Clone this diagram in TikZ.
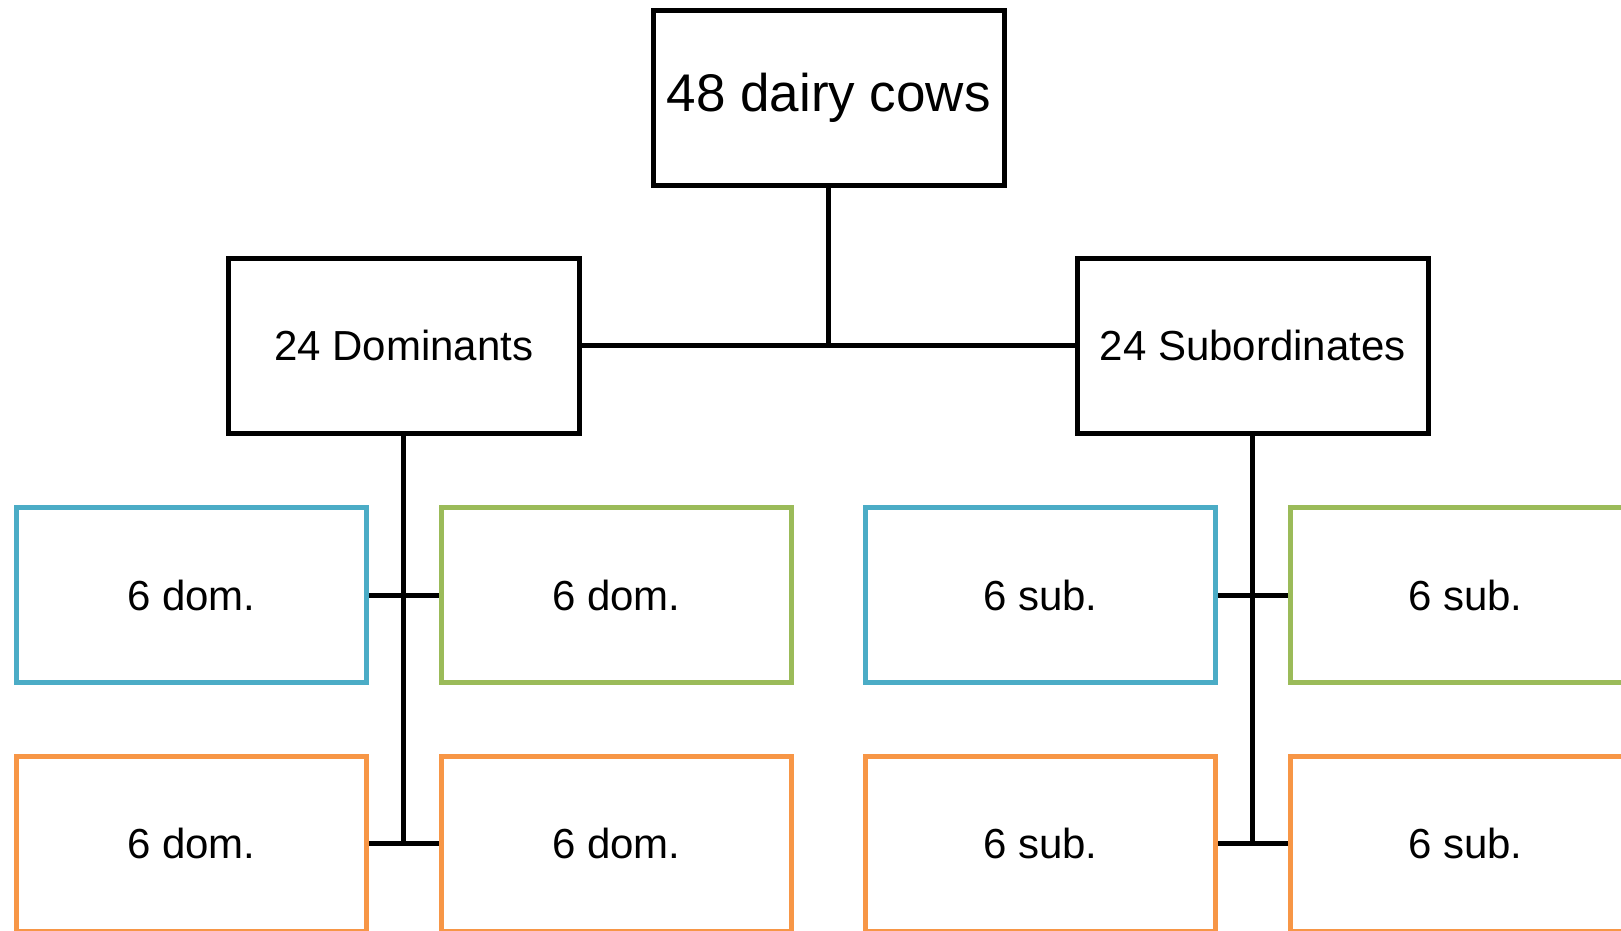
\documentclass[tikz,border=0pt]{standalone}
\usepackage{fontspec}
\setmainfont{Liberation Sans}
\definecolor{domblue}{HTML}{4BACC6}
\definecolor{domgreen}{HTML}{9BBB59}
\definecolor{domorange}{HTML}{F79646}
\tikzset{
 cowbox/.style={draw, line width=5pt, minimum width=350.5pt, minimum height=175pt,
  inner sep=0pt, font=\fontsize{42}{50}\selectfont},
 link/.style={line width=5pt}
}
\begin{document}
\begin{tikzpicture}[x=1pt,y=1pt]
 \useasboundingbox (0,0) rectangle (1621,-930);

 %whole herd
 \node [cowbox, font=\fontsize{53}{60}\selectfont] (herd) at (828.75,-97.5) {48 dairy cows};

 %ranks
 \node [cowbox] (dom) at (403.75,-345.5) {24 Dominants};
 \node [cowbox] (sub) at (1252.75,-345.5) {24 Subordinates};

 %groups of dominants
 \node [cowbox, draw=domblue] (domA) at (191.25,-595) {6 dom.};
 \node [cowbox, draw=domgreen] (domB) at (616.25,-595) {6 dom.};
 \node [cowbox, draw=domorange] (domC) at (191.25,-843.5) {6 dom.};
 \node [cowbox, draw=domorange] (domD) at (616.25,-843.5) {6 dom.};

 %groups of subordinates
 \node [cowbox, draw=domblue] (subA) at (1040.25,-595) {6 sub.};
 \node [cowbox, draw=domgreen] (subB) at (1465.25,-595) {6 sub.};
 \node [cowbox, draw=domorange] (subC) at (1040.25,-843.5) {6 sub.};
 \node [cowbox, draw=domorange] (subD) at (1465.25,-843.5) {6 sub.};

 %ends of the trunks
 \coordinate (domEnd) at (dom |- domC);
 \coordinate (subEnd) at (sub |- subC);

 %connect herd to ranks
 \draw [link] (dom) -- (sub);
 \draw [link] (herd) -- (herd |- dom);

 %connect dominants
 \draw [link] (dom) -- (domEnd);
 \draw [link] (domA) -- (domB);
 \draw [link] (domC) -- (domD);

 %connect subordinates
 \draw [link] (sub) -- (subEnd);
 \draw [link] (subA) -- (subB);
 \draw [link] (subC) -- (subD);
\end{tikzpicture}
\end{document}
